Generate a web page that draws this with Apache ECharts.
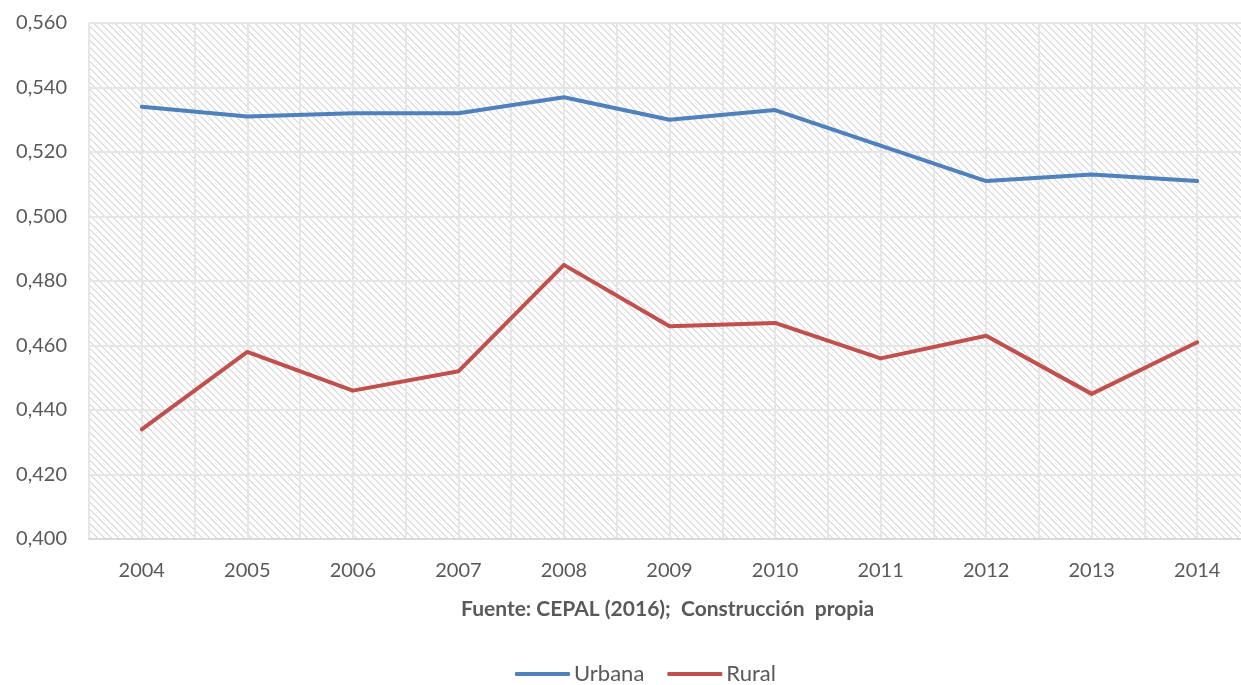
<!DOCTYPE html>
<html>
<head>
<meta charset="utf-8">
<script src="https://cdn.jsdelivr.net/npm/echarts@6/dist/echarts.min.js"></script>
<style>
  html, body { margin: 0; padding: 0; background: #fff; overflow: hidden; }
  #chart { width: 1250px; height: 685px; }
</style>
</head>
<body>
<div id="chart"></div>
<script>
// Gini coefficient by area, 2004-2014
const years = ['2004', '2005', '2006', '2007', '2008', '2009', '2010', '2011', '2012', '2013', '2014'];
const urbana = [0.534, 0.531, 0.532, 0.532, 0.537, 0.530, 0.533, 0.522, 0.511, 0.513, 0.511];
const rural = [0.434, 0.458, 0.446, 0.452, 0.485, 0.466, 0.467, 0.456, 0.463, 0.445, 0.461];
const yTicks = { min: 0.40, max: 0.56, step: 0.02 };

// Light diagonal hatch for the plot background
function hatchPattern() {
  const s = 7;
  const c = document.createElement('canvas');
  c.width = s; c.height = s;
  const g = c.getContext('2d');
  g.fillStyle = '#ffffff';
  g.fillRect(0, 0, s, s);
  g.fillStyle = '#e0e0e0';
  for (let i = 0; i < s; i++) {
    g.fillRect(i, i, 1, 1);
    g.fillRect((i + 1) % s, i, 1, 1);
  }
  return c;
}

const font = 'Lato, "Noto Sans", sans-serif';
const textColor = '#595959';

const chart = echarts.init(document.getElementById('chart'), null, { renderer: 'canvas' });
chart.setOption({
  animation: false,
  backgroundColor: '#ffffff',
  title: {
    text: 'Fuente: CEPAL (2016);  Construcción  propia',
    left: 456,
    top: 594,
    textStyle: { fontFamily: font, fontSize: 21, fontWeight: 'bold', color: '#595959' }
  },
  legend: {
    top: 658,
    left: 510,
    itemWidth: 55,
    itemHeight: 4,
    itemGap: 23,
    icon: 'roundRect',
    textStyle: { fontFamily: font, fontSize: 22, color: textColor, padding: [0, 0, 0, -1] },
    data: ['Urbana', 'Rural']
  },
  grid: {
    left: 89,
    top: 23,
    right: 0,
    height: 516,
    show: true,
    borderWidth: 0,
    backgroundColor: { image: hatchPattern(), repeat: 'repeat' }
  },
  xAxis: [
    {
      type: 'category',
      data: years,
      boundaryGap: true,
      axisLine: { show: true, lineStyle: { color: '#d9d9d9', width: 2 } },
      axisTick: { show: false },
      splitLine: { show: false },
      axisLabel: { fontFamily: font, fontSize: 20, color: textColor, margin: 22 }
    },
    {
      // hidden value axis that supplies vertical grid lines at centers and boundaries
      type: 'value',
      position: 'bottom',
      min: -0.5,
      max: 10.5,
      interval: 0.5,
      axisLine: { show: false },
      axisTick: { show: false },
      axisLabel: { show: false },
      splitLine: { show: true, lineStyle: { color: '#e6e6e6', width: 2 } }
    }
  ],
  yAxis: {
    type: 'value',
    min: yTicks.min,
    max: yTicks.max,
    interval: yTicks.step,
    axisLine: { show: false },
    axisTick: { show: false },
    axisLabel: {
      fontFamily: font, fontSize: 20, color: textColor, margin: 22,
      formatter: v => v.toFixed(3).replace('.', ',')
    },
    splitLine: { show: true, lineStyle: { color: '#e6e6e6', width: 2 } }
  },
  series: [
    {
      name: 'Urbana',
      type: 'line',
      data: urbana,
      xAxisIndex: 0,
      showSymbol: false,
      symbol: 'none',
      lineStyle: { color: '#4f81bd', width: 4, cap: 'round', join: 'round' },
      itemStyle: { color: '#4f81bd' }
    },
    {
      name: 'Rural',
      type: 'line',
      data: rural,
      xAxisIndex: 0,
      showSymbol: false,
      symbol: 'none',
      lineStyle: { color: '#c0504d', width: 4, cap: 'round', join: 'round' },
      itemStyle: { color: '#c0504d' }
    }
  ]
});
</script>
</body>
</html>
